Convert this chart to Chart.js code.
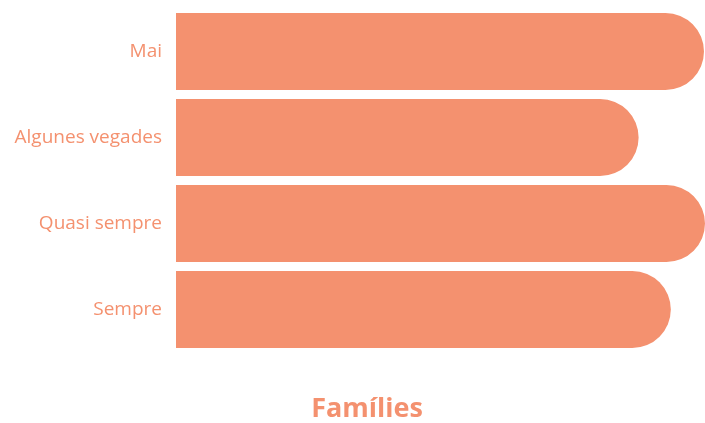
<!DOCTYPE html>
<html>
<head>
<meta charset="utf-8">
<script src="https://cdn.jsdelivr.net/npm/chart.js@4"></script>
<style>
html,body{margin:0;padding:0;background:#fff;}
#wrap{width:705px;height:423px;position:relative;}
</style>
</head>
<body>
<div id="wrap"><canvas id="c"></canvas></div>
<script>
const categories = ["Mai", "Algunes vegades", "Quasi sempre", "Sempre"];
const values = [26.25, 23.0, 26.3, 24.6];
const chartTitle = "Famílies";

const salmon = "#F4916F";

const shiftTitle = {
  id: "shiftTitle",
  afterLayout(chart) {
    if (chart.titleBlock) { chart.titleBlock.left += 29; }
  }
};

new Chart(document.getElementById("c"), {
  type: "bar",
  data: {
    labels: categories,
    datasets: [{
      data: values,
      backgroundColor: salmon,
      borderWidth: 0,
      borderRadius: 40,
      borderSkipped: "start",
      categoryPercentage: 1,
      barPercentage: 0.895
    }]
  },
  options: {
    indexAxis: "y",
    responsive: true,
    maintainAspectRatio: false,
    animation: false,
    layout: { padding: { top: 8.5, left: 0, right: 0, bottom: 0 } },
    plugins: {
      legend: { display: false },
      tooltip: { enabled: false },
      title: {
        display: true,
        text: chartTitle,
        position: "bottom",
        color: salmon,
        font: { family: "'Open Sans', sans-serif", size: 27, weight: "bold", lineHeight: 1.0 },
        padding: { top: 43.5, bottom: 0 }
      }
    },
    scales: {
      x: {
        display: false,
        min: 0,
        max: Math.max(...values)
      },
      y: {
        grid: { display: false, drawTicks: false },
        border: { display: false },
        ticks: {
          color: salmon,
          padding: 14,
          font: { family: "'Open Sans', sans-serif", size: 19 }
        },
        afterFit: s => { s.width = 176; s.paddingTop = 0; s.paddingBottom = 0; }
      }
    }
  },
  plugins: [shiftTitle]
});
</script>
</body>
</html>
